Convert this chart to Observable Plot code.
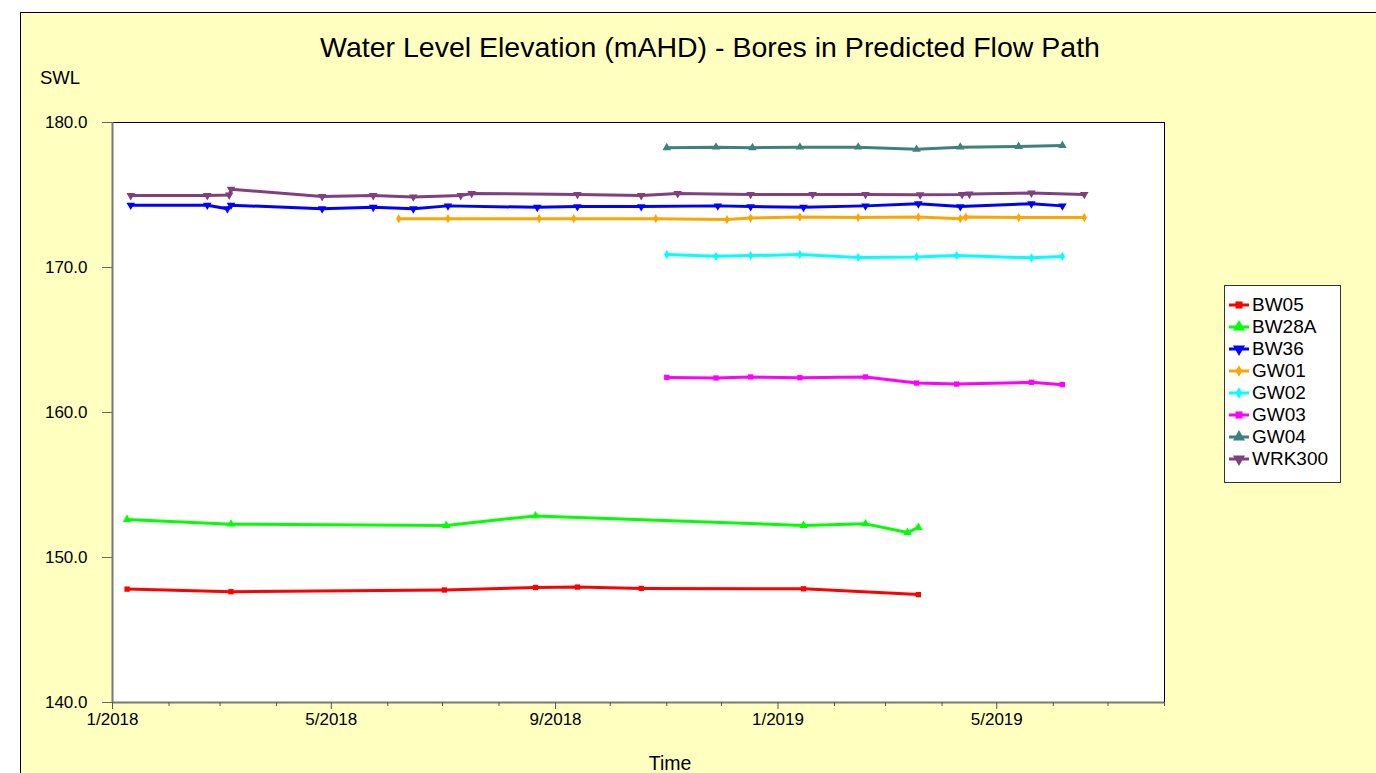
<!DOCTYPE html>
<html>
<head>
<meta charset="utf-8">
<script src="https://cdn.jsdelivr.net/npm/d3@7"></script>
<script src="https://cdn.jsdelivr.net/npm/@observablehq/plot@0.6"></script>
<style>
  html, body { margin: 0; padding: 0; background: white; }
  #page { position: relative; width: 1376px; height: 773px; overflow: hidden; font-family: "Liberation Sans", Arial, sans-serif; color: black; }
  #panel { position: absolute; left: 20px; top: 12px; width: 1400px; height: 800px; background: #FFFFC0; border-left: 1px solid black; border-top: 1px solid black; }
  #chart { position: absolute; left: 0; top: 0; }
  .lbl { position: absolute; white-space: nowrap; line-height: 1; }
  #legend { position: absolute; left: 1224px; top: 285px; width: 117px; height: 198px; box-sizing: border-box; background: white; border: 1.5px solid #333; }
  .row { position: absolute; left: 2px; height: 22px; line-height: 22px; font-size: 19px; white-space: nowrap; }
  .row svg { position: absolute; left: 0; top: 0; }
  .row span { position: absolute; left: 25px; top: 0; }
</style>
</head>
<body>
<div id="page">
  <div id="panel"></div>
  <div id="chart"></div>
  <div class="lbl" id="title" style="left:710px; top:33px; font-size:28.5px; transform:translateX(-50%);"></div>
  <div class="lbl" id="ylabel" style="left:40px; top:69px; font-size:18.5px;"></div>
  <div class="lbl" id="xlabel" style="left:670px; top:754px; font-size:19.5px; transform:translateX(-50%);"></div>
  <div id="legend"></div>
</div>
<script>
// ---- Text ----
const titleText = "Water Level Elevation (mAHD) - Bores in Predicted Flow Path";
const yLabelText = "SWL";
const xLabelText = "Time";

// ---- Series names & colours ----
const boreNames = ["BW05", "BW28A", "BW36", "GW01", "GW02", "GW03", "GW04", "WRK300"];
const boreColors = ["#FF0000", "#00FF00", "#0000FF", "#FFA500", "#00FFFF", "#FF00FF", "#408080", "#804080"];

// ---- Data ----
const bw05Dates = ["2018-01-09","2018-03-07","2018-07-02","2018-08-21","2018-09-13","2018-10-18","2019-01-15","2019-03-19"];
const bw05Values = [147.82, 147.64, 147.76, 147.93, 147.96, 147.87, 147.84, 147.44];

const bw28aDates = ["2018-01-09","2018-03-07","2018-07-03","2018-08-21","2019-01-15","2019-02-18","2019-03-13","2019-03-19"];
const bw28aValues = [152.62, 152.3, 152.21, 152.87, 152.21, 152.32, 151.72, 152.07];

const bw36Dates = ["2018-01-11","2018-02-22","2018-03-05","2018-03-07","2018-04-26","2018-05-24","2018-06-15","2018-07-04","2018-08-22","2018-09-13","2018-10-18","2018-11-29","2018-12-17","2019-01-15","2019-02-18","2019-03-19","2019-04-11","2019-05-20","2019-06-06"];
const bw36Values = [174.3, 174.3, 174.05, 174.3, 174.05, 174.15, 174.05, 174.25, 174.15, 174.2, 174.2, 174.25, 174.2, 174.15, 174.25, 174.4, 174.2, 174.4, 174.25];

const gw01Dates = ["2018-06-07","2018-07-04","2018-08-23","2018-09-11","2018-10-26","2018-12-04","2018-12-17","2019-01-13","2019-02-14","2019-03-19","2019-04-11","2019-04-14","2019-05-13","2019-06-18"];
const gw01Values = [173.37, 173.37, 173.37, 173.37, 173.37, 173.31, 173.41, 173.48, 173.44, 173.48, 173.37, 173.48, 173.44, 173.44];

const gw02Dates = ["2018-11-01","2018-11-28","2018-12-17","2019-01-13","2019-02-14","2019-03-18","2019-04-09","2019-05-20","2019-06-06"];
const gw02Values = [170.89, 170.77, 170.82, 170.89, 170.69, 170.73, 170.82, 170.67, 170.76];

const gw03Dates = ["2018-11-01","2018-11-28","2018-12-17","2019-01-13","2019-02-18","2019-03-18","2019-04-09","2019-05-20","2019-06-06"];
const gw03Values = [162.42, 162.38, 162.45, 162.40, 162.45, 162.03, 161.96, 162.08, 161.92];

const gw04Dates = ["2018-11-01","2018-11-28","2018-12-18","2019-01-13","2019-02-14","2019-03-18","2019-04-11","2019-05-13","2019-06-06"];
const gw04Values = [178.26, 178.3, 178.26, 178.3, 178.3, 178.15, 178.3, 178.35, 178.42];

const wrk300Dates = ["2018-01-11","2018-02-22","2018-03-06","2018-03-07","2018-04-26","2018-05-24","2018-06-15","2018-07-11","2018-07-17","2018-09-13","2018-10-18","2018-11-07","2018-12-17","2019-01-20","2019-02-18","2019-03-20","2019-04-12","2019-04-16","2019-05-20","2019-06-18"];
const wrk300Values = [174.97, 174.97, 175.0, 175.4, 174.9, 174.97, 174.87, 174.97, 175.1, 175.04, 174.96, 175.1, 175.04, 175.04, 175.04, 175.02, 175.04, 175.07, 175.14, 175.04];

// ---- Axes ----
const xDomain = ["2018-01-01", "2019-08-01"];
const yDomain = [140, 180];
const yTicks = [140, 150, 160, 170, 180];
const xMajorTicks = ["2018-01-01","2018-05-01","2018-09-01","2019-01-01","2019-05-01"];
const xMajorLabels = ["1/2018","5/2018","9/2018","1/2019","5/2019"];
const xMinorTicks = ["2018-02-01","2018-03-01","2018-04-01","2018-06-01","2018-07-01","2018-08-01","2018-10-01","2018-11-01","2018-12-01","2019-02-01","2019-03-01","2019-04-01","2019-06-01","2019-07-01","2019-08-01"];

// ---- Symbols ----
const sqrt3 = Math.sqrt(3);
const symbolTriangleDown = {
  draw(context, size) {
    const y = -Math.sqrt(size / (sqrt3 * 3));
    context.moveTo(0, -y * 2);
    context.lineTo(-sqrt3 * y, y);
    context.lineTo(sqrt3 * y, y);
    context.closePath();
  }
};
const boreSymbols = [d3.symbolSquare, d3.symbolTriangle, symbolTriangleDown, d3.symbolDiamond, d3.symbolDiamond, d3.symbolSquare, d3.symbolTriangle, symbolTriangleDown];
const boreSizes = [4, 4.5, 4.5, 3.5, 3.5, 4, 4.5, 4.5];

// ---- Build table ----
const seriesDates = [bw05Dates, bw28aDates, bw36Dates, gw01Dates, gw02Dates, gw03Dates, gw04Dates, wrk300Dates];
const seriesValues = [bw05Values, bw28aValues, bw36Values, gw01Values, gw02Values, gw03Values, gw04Values, wrk300Values];
const rows = boreNames.flatMap((name, k) =>
  seriesDates[k].map((d, i) => ({ bore: name, date: new Date(d), value: seriesValues[k][i], r: boreSizes[k] })));

const labelMap = new Map(xMajorTicks.map((d, i) => [+new Date(d), xMajorLabels[i]]));

const chart = Plot.plot({
  width: 1376,
  height: 773,
  marginLeft: 112,
  marginRight: 212,
  marginTop: 122,
  marginBottom: 71,
  style: { background: "transparent", fontFamily: "'Liberation Sans', Arial, sans-serif", color: "black" },
  x: { type: "utc", domain: xDomain.map(d => new Date(d)) },
  y: { domain: yDomain },
  color: { domain: boreNames, range: boreColors },
  symbol: { domain: boreNames, range: boreSymbols },
  marks: [
    Plot.frame({ fill: "white", stroke: "black", strokeWidth: 1 }),
    Plot.ruleX([new Date(xDomain[0])], { stroke: "#7a7a7a", strokeWidth: 2 }),
    Plot.ruleY([yDomain[0]], { stroke: "#7a7a7a", strokeWidth: 2 }),
    Plot.axisY(yTicks, { tickSize: 10, tickPadding: 15, tickFormat: d => d.toFixed(1), fontSize: 17, label: null, stroke: "#666", fill: "black" }),
    Plot.axisX(xMinorTicks.map(d => new Date(d)), { tickSize: 4, tickFormat: () => "", label: null, stroke: "#555" }),
    Plot.axisX(xMajorTicks.map(d => new Date(d)), { tickSize: 7, tickPadding: 3, tickFormat: d => labelMap.get(+d), fontSize: 17, label: null, stroke: "#555", fill: "black" }),
    Plot.line(rows, { x: "date", y: "value", z: "bore", stroke: "bore", strokeWidth: 3 }),
    Plot.dot(rows, { x: "date", y: "value", fill: "bore", symbol: "bore", r: "r", stroke: "none" })
  ]
});
document.getElementById("chart").appendChild(chart);

// ---- Labels ----
document.getElementById("title").textContent = titleText;
document.getElementById("ylabel").textContent = yLabelText;
document.getElementById("xlabel").textContent = xLabelText;

// ---- Legend ----
const legend = d3.select("#legend");
boreNames.forEach((name, k) => {
  const row = legend.append("div").attr("class", "row").style("top", (8 + 22 * k) + "px");
  const svg = row.append("svg").attr("width", 24).attr("height", 22);
  svg.append("line").attr("x1", 2).attr("x2", 22).attr("y1", 11).attr("y2", 11)
    .attr("stroke", boreColors[k]).attr("stroke-width", 3);
  svg.append("path").attr("transform", "translate(12,11)")
    .attr("d", d3.symbol(boreSymbols[k], Math.PI * boreSizes[k] * boreSizes[k])())
    .attr("fill", boreColors[k]);
  row.append("span").text(name);
});
</script>
</body>
</html>
